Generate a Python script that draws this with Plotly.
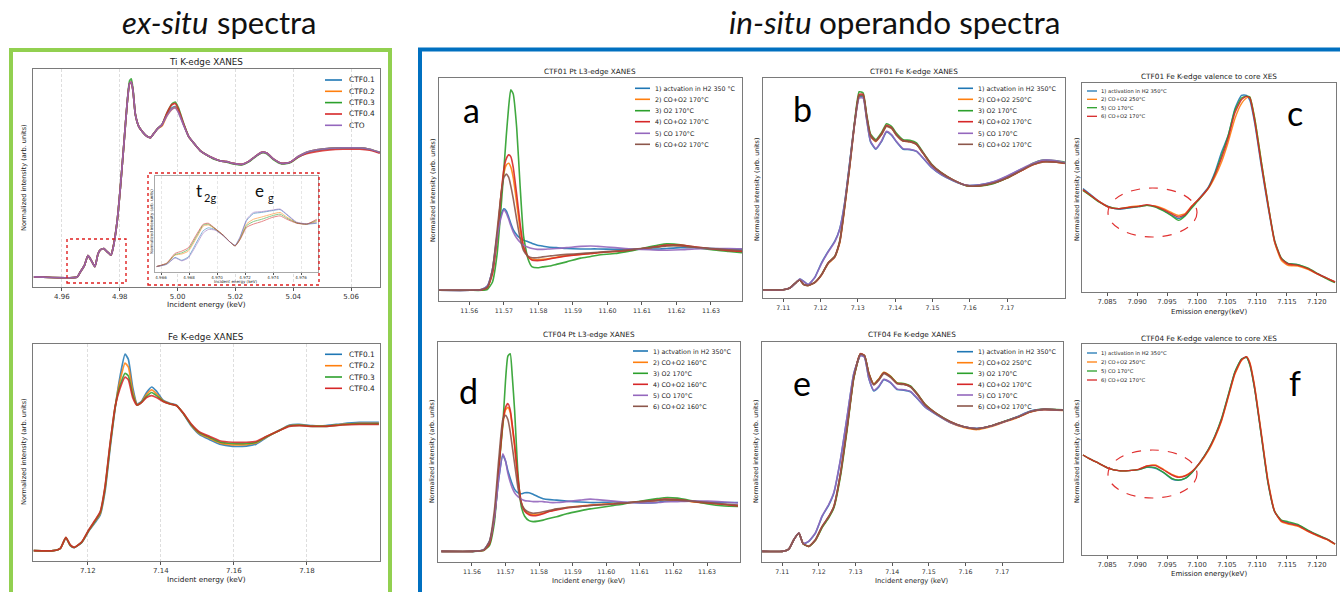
import plotly.graph_objects as go

W, H = 1340, 592
COLORS = ["#1f77b4", "#ff7f0e", "#2ca02c", "#d62728", "#9467bd", "#8c564b"]
MPL = "DejaVu Sans"

# ---------------- data: ex-situ Ti K-edge ----------------
ti_energy = [4.9503, 4.9653, 4.9664, 4.9678, 4.9690, 4.9701, 4.9714, 4.9725, 4.9733, 4.9745,
             4.9756, 4.9770, 4.9779, 4.9791, 4.9802, 4.9814, 4.9825, 4.9834, 4.9840, 4.9846,
             4.9854, 4.9866, 4.9877, 4.9894, 4.9906, 4.9917, 4.9931, 4.9946, 4.9963, 4.9980,
             4.9992, 5.0003, 5.0021, 5.0038, 5.0055, 5.0078, 5.0101, 5.0124, 5.0147, 5.0170,
             5.0193, 5.0222, 5.0245, 5.0268, 5.0291, 5.0308, 5.0331, 5.0360, 5.0389, 5.0417,
             5.0446, 5.0480, 5.0526, 5.0572, 5.0630, 5.0664, 5.0699]
ti_ctf01 = [0.0, 0.0, 0.04, 0.09, 0.165, 0.13, 0.08, 0.18, 0.21, 0.22, 0.196, 0.17, 0.25, 0.43, 0.69, 1.02, 1.33, 1.50, 1.50, 1.44,
            1.26, 1.165, 1.13, 1.09, 1.08, 1.11, 1.15, 1.18, 1.26, 1.31, 1.32, 1.285, 1.18, 1.09, 1.04, 0.98, 0.945, 0.92, 0.90, 0.894,
            0.88, 0.873, 0.894, 0.933, 0.966, 0.96, 0.915, 0.88, 0.889, 0.933, 0.966, 0.985, 0.997, 1.0, 1.0, 0.99, 0.966]
ti_ctf02 = [0.0, 0.0, 0.04, 0.09, 0.165, 0.13, 0.08, 0.18, 0.21, 0.22, 0.196, 0.17, 0.25, 0.43, 0.69, 1.02, 1.33, 1.50, 1.51, 1.44,
            1.26, 1.165, 1.13, 1.09, 1.08, 1.11, 1.15, 1.17, 1.25, 1.30, 1.315, 1.28, 1.18, 1.09, 1.04, 0.98, 0.945, 0.92, 0.90, 0.894,
            0.88, 0.873, 0.894, 0.933, 0.966, 0.96, 0.915, 0.88, 0.889, 0.933, 0.966, 0.985, 0.997, 1.0, 1.0, 0.99, 0.966]
ti_ctf03 = [0.0, 0.0, 0.04, 0.09, 0.165, 0.13, 0.08, 0.18, 0.21, 0.22, 0.196, 0.17, 0.25, 0.43, 0.69, 1.02, 1.33, 1.52, 1.535, 1.45,
            1.26, 1.165, 1.13, 1.09, 1.08, 1.11, 1.15, 1.18, 1.27, 1.34, 1.355, 1.31, 1.19, 1.09, 1.04, 0.98, 0.945, 0.915, 0.90, 0.89,
            0.876, 0.868, 0.89, 0.93, 0.962, 0.956, 0.91, 0.876, 0.885, 0.928, 0.962, 0.982, 0.995, 0.998, 0.998, 0.988, 0.964]
ti_ctf04 = [0.0, 0.0, 0.04, 0.09, 0.165, 0.13, 0.08, 0.18, 0.21, 0.22, 0.196, 0.17, 0.25, 0.43, 0.69, 1.02, 1.33, 1.50, 1.51, 1.44,
            1.26, 1.165, 1.13, 1.09, 1.08, 1.11, 1.15, 1.18, 1.27, 1.335, 1.345, 1.30, 1.185, 1.09, 1.04, 0.98, 0.945, 0.92, 0.90, 0.894,
            0.88, 0.873, 0.894, 0.933, 0.966, 0.96, 0.915, 0.88, 0.889, 0.93, 0.955, 0.972, 0.985, 0.99, 0.99, 0.982, 0.96]
ti_cto = [0.0, 0.0, 0.04, 0.09, 0.165, 0.13, 0.08, 0.18, 0.21, 0.22, 0.196, 0.17, 0.245, 0.43, 0.69, 1.02, 1.33, 1.50, 1.51, 1.44,
          1.26, 1.165, 1.13, 1.09, 1.08, 1.11, 1.15, 1.18, 1.25, 1.30, 1.31, 1.275, 1.175, 1.09, 1.04, 0.98, 0.945, 0.92, 0.90, 0.894,
          0.88, 0.873, 0.894, 0.933, 0.966, 0.96, 0.915, 0.88, 0.889, 0.933, 0.966, 0.985, 0.997, 1.0, 1.0, 0.99, 0.966]
ti_labels = ["CTF0.1", "CTF0.2", "CTF0.3", "CTF0.4", "CTO"]

# inset (pre-edge region of Ti K-edge)
inset_energy = [4.96569, 4.9664, 4.9670, 4.96748, 4.96795, 4.96855, 4.96902, 4.96938, 4.96986, 4.97045, 4.97093,
                4.97129, 4.97164, 4.97212, 4.9726, 4.97319, 4.97391, 4.9745, 4.97498, 4.97569, 4.9764, 4.97712]
inset_ctf01 = [-0.01, 0.03, 0.15, 0.10, 0.16, 0.42, 0.62, 0.67, 0.64, 0.53, 0.42, 0.36, 0.50, 0.80, 0.92, 0.94, 0.97, 0.99, 0.90, 0.76, 0.735, 0.75]
inset_ctf02 = [-0.01, 0.04, 0.19, 0.21, 0.26, 0.50, 0.70, 0.72, 0.65, 0.535, 0.42, 0.355, 0.48, 0.74, 0.82, 0.86, 0.91, 0.94, 0.86, 0.76, 0.735, 0.78]
inset_ctf03 = [-0.01, 0.045, 0.20, 0.23, 0.29, 0.53, 0.72, 0.735, 0.655, 0.54, 0.42, 0.352, 0.47, 0.71, 0.78, 0.82, 0.88, 0.91, 0.84, 0.755, 0.735, 0.80]
inset_ctf04 = [-0.01, 0.05, 0.22, 0.26, 0.32, 0.56, 0.735, 0.75, 0.66, 0.54, 0.42, 0.35, 0.46, 0.68, 0.735, 0.78, 0.85, 0.88, 0.82, 0.75, 0.735, 0.82]
inset_cto = [-0.01, 0.03, 0.14, 0.09, 0.14, 0.38, 0.58, 0.64, 0.63, 0.53, 0.42, 0.36, 0.51, 0.82, 0.94, 0.955, 0.98, 1.0, 0.91, 0.77, 0.74, 0.76]

# ---------------- data: ex-situ Fe K-edge ----------------
fe_energy = [7.1052, 7.1106, 7.1125, 7.1140, 7.1152, 7.1163, 7.1184, 7.1202, 7.1220, 7.1234, 7.1247, 7.1261, 7.1275, 7.1288,
             7.1302, 7.1311, 7.1323, 7.1335, 7.1347, 7.1361, 7.1375, 7.1388, 7.1406, 7.1425, 7.1443, 7.1461, 7.1484, 7.1506,
             7.1534, 7.1561, 7.1597, 7.1634, 7.1661, 7.1688, 7.1725, 7.1752, 7.1779, 7.1815, 7.1852, 7.1897, 7.1943, 7.1997]
fe_ctf01 = [0, 0, 0.018, 0.10, 0.04, 0.024, 0.065, 0.15, 0.22, 0.28, 0.46, 0.80, 1.12, 1.36, 1.54, 1.50, 1.28, 1.15, 1.17, 1.24, 1.283,
            1.25, 1.18, 1.155, 1.14, 1.075, 0.975, 0.91, 0.87, 0.835, 0.818, 0.82, 0.835, 0.885, 0.945, 0.985, 0.99, 0.98, 0.98, 0.995, 1.005, 1.005]
fe_ctf02 = [0, 0, 0.018, 0.102, 0.042, 0.025, 0.068, 0.155, 0.23, 0.29, 0.48, 0.82, 1.125, 1.33, 1.47, 1.44, 1.25, 1.145, 1.165, 1.225, 1.26,
            1.23, 1.175, 1.152, 1.138, 1.078, 0.982, 0.918, 0.88, 0.845, 0.83, 0.832, 0.845, 0.89, 0.943, 0.98, 0.985, 0.977, 0.977, 0.99, 0.998, 0.998]
fe_ctf03 = [0, 0, 0.018, 0.103, 0.043, 0.025, 0.069, 0.158, 0.235, 0.30, 0.49, 0.83, 1.128, 1.29, 1.39, 1.37, 1.22, 1.14, 1.162, 1.21, 1.24,
            1.215, 1.172, 1.15, 1.137, 1.079, 0.986, 0.924, 0.888, 0.852, 0.84, 0.84, 0.85, 0.892, 0.942, 0.977, 0.982, 0.975, 0.975, 0.987, 0.994, 0.994]
fe_ctf04 = [0, 0, 0.018, 0.105, 0.045, 0.026, 0.07, 0.16, 0.24, 0.306, 0.50, 0.84, 1.13, 1.27, 1.36, 1.34, 1.20, 1.14, 1.16, 1.20, 1.215,
            1.20, 1.17, 1.15, 1.136, 1.08, 0.99, 0.93, 0.895, 0.862, 0.85, 0.85, 0.858, 0.895, 0.942, 0.974, 0.98, 0.974, 0.974, 0.985, 0.99, 0.99]
fe_labels = ["CTF0.1", "CTF0.2", "CTF0.3", "CTF0.4"]

# ---------------- data: in-situ Pt L3-edge (panels a, d) ----------------
pt_energy = [11.5509, 11.5602, 11.5635, 11.5652, 11.5667, 11.5680, 11.5692, 11.5700, 11.5707, 11.5714, 11.5720, 11.5727,
             11.5737, 11.5747, 11.5757, 11.5770, 11.5782, 11.5797, 11.5812, 11.5832, 11.5852, 11.5882, 11.5922, 11.5952,
             11.5972, 11.6022, 11.6052, 11.6072, 11.6122, 11.6152, 11.6172, 11.6212, 11.6252, 11.6302, 11.6352, 11.6392]
a_s1 = [0, 0, 0.02, 0.1, 0.5, 1.3, 1.8, 1.95, 1.9, 1.75, 1.6, 1.45, 1.33, 1.25, 1.2, 1.16, 1.12, 1.08, 1.06, 1.03, 1.02, 1.0,
        0.99, 0.99, 0.99, 0.98, 0.98, 0.98, 0.99, 0.99, 1.0, 1.02, 1.02, 1.0, 0.99, 0.98]
a_s2 = [0, 0, 0.01, 0.06, 0.42, 1.25, 2.3, 2.8, 3.0, 3.04, 2.95, 2.7, 2.1, 1.45, 1.0, 0.8, 0.74, 0.73, 0.74, 0.76, 0.79, 0.83,
        0.86, 0.88, 0.9, 0.93, 0.95, 0.97, 1.02, 1.05, 1.07, 1.07, 1.03, 0.99, 0.96, 0.94]
a_s3 = [0, 0, 0, 0.02, 0.2, 0.84, 2.0, 2.9, 3.7, 4.4, 4.8, 4.7, 3.9, 2.5, 1.3, 0.75, 0.56, 0.54, 0.56, 0.58, 0.62, 0.68,
        0.77, 0.81, 0.84, 0.88, 0.92, 0.95, 1.04, 1.09, 1.11, 1.09, 1.03, 0.97, 0.93, 0.9]
a_s4 = [0, 0, 0.01, 0.06, 0.4, 1.2, 2.3, 2.9, 3.15, 3.24, 3.2, 2.95, 2.3, 1.6, 1.05, 0.8, 0.72, 0.71, 0.72, 0.75, 0.78, 0.82,
        0.86, 0.88, 0.9, 0.93, 0.95, 0.97, 1.02, 1.06, 1.08, 1.08, 1.04, 0.99, 0.95, 0.93]
a_s5 = [0, 0, 0.02, 0.1, 0.5, 1.25, 1.75, 1.92, 1.85, 1.7, 1.55, 1.4, 1.25, 1.15, 1.08, 1.03, 1.0, 0.98, 0.98, 0.99, 1.0, 1.02,
        1.05, 1.06, 1.05, 1.02, 1.0, 0.99, 0.97, 0.96, 0.96, 0.97, 0.99, 1.0, 1.0, 0.99]
a_s6 = [0, 0, 0.02, 0.08, 0.5, 1.4, 2.3, 2.7, 2.78, 2.7, 2.5, 2.2, 1.7, 1.25, 0.95, 0.82, 0.78, 0.78, 0.8, 0.82, 0.84, 0.86,
        0.88, 0.9, 0.91, 0.94, 0.96, 0.98, 1.02, 1.04, 1.06, 1.06, 1.03, 1.0, 0.97, 0.95]
a_labels = ["1) actvation in H2 350 °C", "2) CO+O2 170°C", "3) O2 170°C", "4) CO+O2 170°C", "5) CO 170°C", "6) CO+O2 170°C"]

d_s1 = [0, 0, 0.03, 0.2, 0.7, 1.5, 1.97, 1.85, 1.65, 1.5, 1.38, 1.27, 1.2, 1.18, 1.2, 1.2, 1.17, 1.12, 1.08, 1.06, 1.05, 1.03,
        1.01, 1.0, 1.0, 1.01, 1.0, 1.0, 0.99, 1.0, 1.03, 1.04, 1.03, 1.01, 1.0, 1.0]
d_s2 = [0, 0, 0.02, 0.15, 0.72, 1.72, 2.6, 2.9, 2.95, 2.85, 2.55, 2.15, 1.45, 1.0, 0.84, 0.77, 0.75, 0.76, 0.78, 0.83, 0.86, 0.9,
        0.93, 0.95, 0.96, 0.98, 0.99, 1.0, 1.03, 1.05, 1.06, 1.05, 1.02, 0.99, 0.96, 0.94]
d_s3 = [0, 0, 0.02, 0.12, 0.6, 1.7, 2.6, 3.5, 4.0, 4.05, 3.6, 2.9, 1.6, 0.92, 0.72, 0.63, 0.61, 0.62, 0.64, 0.68, 0.71, 0.77,
        0.83, 0.87, 0.89, 0.94, 0.97, 1.0, 1.05, 1.08, 1.1, 1.09, 1.04, 0.97, 0.93, 0.92]
d_s4 = [0, 0, 0.02, 0.15, 0.7, 1.7, 2.65, 2.95, 3.03, 2.9, 2.6, 2.2, 1.5, 1.0, 0.82, 0.75, 0.73, 0.74, 0.77, 0.82, 0.85, 0.89,
        0.92, 0.94, 0.95, 0.97, 0.99, 1.0, 1.03, 1.05, 1.07, 1.06, 1.03, 0.99, 0.96, 0.93]
d_s5 = [0, 0, 0.03, 0.2, 0.7, 1.5, 2.0, 1.85, 1.6, 1.42, 1.3, 1.2, 1.12, 1.07, 1.04, 1.03, 1.02, 1.02, 1.02, 1.0, 1.0, 1.02,
        1.05, 1.07, 1.06, 1.03, 1.01, 1.0, 0.99, 1.0, 1.01, 1.02, 1.03, 1.03, 1.01, 0.99]
d_s6 = [0, 0, 0.03, 0.2, 0.85, 1.9, 2.7, 2.79, 2.7, 2.45, 2.15, 1.8, 1.3, 0.98, 0.86, 0.8, 0.78, 0.79, 0.81, 0.84, 0.87, 0.9,
        0.92, 0.94, 0.95, 0.97, 0.99, 1.0, 1.03, 1.04, 1.06, 1.05, 1.03, 1.0, 0.97, 0.95]
d_labels = ["1) actvation in H2 350°C", "2) CO+O2 160°C", "3) O2 170°C", "4) CO+O2 160°C", "5) CO 170°C", "6) CO+O2 160°C"]

# ---------------- data: in-situ Fe K-edge (panels b, e) ----------------
b_energy = [7.10446, 7.1100, 7.11179, 7.11357, 7.11446, 7.11554, 7.1167, 7.11848, 7.12027, 7.12205, 7.12384, 7.12518,
            7.12652, 7.12786, 7.1292, 7.13036, 7.13143, 7.13232, 7.13339, 7.13482, 7.13634, 7.13768, 7.13902, 7.14036,
            7.14214, 7.14393, 7.14571, 7.1475, 7.14973, 7.15241, 7.15554, 7.15911, 7.16268, 7.16625, 7.16982, 7.17339,
            7.17696, 7.17964, 7.18321, 7.18545]
b_s1 = [0, 0, 0.013, 0.06, 0.083, 0.065, 0.04, 0.097, 0.21, 0.30, 0.38, 0.48, 0.69, 1.005, 1.32, 1.51, 1.51, 1.345, 1.16, 1.10,
        1.16, 1.235, 1.21, 1.157, 1.10, 1.097, 1.083, 1.03, 0.958, 0.9, 0.854, 0.817, 0.822, 0.843, 0.885, 0.937, 0.984, 1.01, 1.005, 0.99]
b_s2 = [0, 0, 0.013, 0.06, 0.078, 0.042, 0.034, 0.056, 0.115, 0.205, 0.255, 0.37, 0.65, 0.97, 1.31, 1.52, 1.52, 1.36, 1.2, 1.16,
        1.215, 1.28, 1.265, 1.21, 1.165, 1.158, 1.138, 1.068, 0.978, 0.912, 0.858, 0.815, 0.813, 0.833, 0.872, 0.925, 0.978, 1.0, 0.998, 0.988]
b_s3 = [0, 0, 0.013, 0.06, 0.076, 0.04, 0.034, 0.058, 0.118, 0.21, 0.262, 0.385, 0.67, 0.99, 1.33, 1.55, 1.54, 1.38, 1.22, 1.175,
        1.23, 1.3, 1.28, 1.225, 1.175, 1.17, 1.15, 1.075, 0.985, 0.916, 0.86, 0.815, 0.812, 0.83, 0.872, 0.93, 0.99, 1.015, 1.01, 1.0]
b_s4 = [0, 0, 0.013, 0.06, 0.076, 0.04, 0.034, 0.057, 0.117, 0.21, 0.26, 0.38, 0.666, 0.98, 1.32, 1.53, 1.53, 1.37, 1.21, 1.167,
        1.22, 1.287, 1.27, 1.214, 1.167, 1.16, 1.14, 1.07, 0.98, 0.914, 0.86, 0.817, 0.815, 0.835, 0.875, 0.927, 0.98, 1.005, 1.0, 0.99]
b_s5 = [0, 0, 0.013, 0.06, 0.083, 0.063, 0.04, 0.095, 0.205, 0.295, 0.375, 0.475, 0.685, 1.0, 1.31, 1.50, 1.50, 1.34, 1.165, 1.105,
        1.165, 1.24, 1.215, 1.16, 1.105, 1.1, 1.085, 1.032, 0.96, 0.902, 0.856, 0.818, 0.822, 0.845, 0.888, 0.94, 0.99, 1.015, 1.01, 0.995]
b_s6 = [0, 0, 0.013, 0.06, 0.076, 0.041, 0.034, 0.056, 0.116, 0.208, 0.258, 0.375, 0.66, 0.975, 1.315, 1.52, 1.52, 1.365, 1.205, 1.163,
        1.215, 1.28, 1.265, 1.21, 1.165, 1.158, 1.138, 1.068, 0.978, 0.912, 0.858, 0.816, 0.815, 0.835, 0.875, 0.927, 0.98, 1.0, 0.998, 0.99]
b_labels = ["1) actvation in H2 350°C", "2) CO+O2 250°C", "3) O2 170°C", "4) CO+O2 170°C", "5) CO 170°C", "6) CO+O2 170°C"]

e_energy = [7.10455, 7.1100, 7.11182, 7.11318, 7.11455, 7.11573, 7.11727, 7.11909, 7.12091, 7.12273, 7.12409, 7.12591,
            7.12773, 7.12955, 7.13136, 7.13245, 7.13364, 7.1350, 7.13636, 7.13773, 7.13955, 7.14136, 7.14318, 7.1450,
            7.14682, 7.14909, 7.15227, 7.15591, 7.15955, 7.16318, 7.16682, 7.17045, 7.17409, 7.17773, 7.18136, 7.18682]
e_s1 = [0, 0, 0.016, 0.082, 0.129, 0.054, 0.07, 0.129, 0.246, 0.328, 0.41, 0.644, 0.948, 1.253, 1.38, 1.37, 1.218, 1.13, 1.159, 1.21,
        1.188, 1.14, 1.136, 1.124, 1.077, 1.014, 0.96, 0.906, 0.878, 0.867, 0.883, 0.913, 0.948, 0.988, 1.0, 0.995]
e_s2 = [0, 0, 0.016, 0.082, 0.129, 0.054, 0.035, 0.08, 0.172, 0.242, 0.31, 0.54, 0.87, 1.225, 1.39, 1.378, 1.255, 1.18, 1.215, 1.262,
        1.235, 1.186, 1.18, 1.162, 1.11, 1.032, 0.965, 0.908, 0.872, 0.858, 0.878, 0.91, 0.942, 0.982, 0.998, 0.992]
e_s3 = [0, 0, 0.016, 0.082, 0.129, 0.054, 0.034, 0.078, 0.168, 0.238, 0.305, 0.53, 0.86, 1.22, 1.39, 1.38, 1.255, 1.178, 1.212, 1.26,
        1.232, 1.187, 1.183, 1.165, 1.112, 1.034, 0.968, 0.914, 0.878, 0.864, 0.883, 0.915, 0.946, 0.986, 1.002, 0.997]
e_s4 = [0, 0, 0.016, 0.082, 0.129, 0.054, 0.035, 0.082, 0.176, 0.246, 0.316, 0.55, 0.878, 1.23, 1.393, 1.38, 1.253, 1.176, 1.21, 1.258,
        1.23, 1.183, 1.178, 1.16, 1.108, 1.03, 0.967, 0.913, 0.878, 0.864, 0.883, 0.913, 0.944, 0.984, 1.0, 0.995]
e_s5 = [0, 0, 0.016, 0.082, 0.13, 0.056, 0.072, 0.132, 0.25, 0.332, 0.415, 0.65, 0.952, 1.255, 1.38, 1.368, 1.22, 1.135, 1.163, 1.212,
        1.19, 1.143, 1.138, 1.126, 1.08, 1.016, 0.962, 0.908, 0.878, 0.866, 0.882, 0.912, 0.947, 0.987, 1.0, 0.995]
e_s6 = [0, 0, 0.016, 0.082, 0.129, 0.054, 0.035, 0.082, 0.176, 0.246, 0.316, 0.55, 0.878, 1.23, 1.39, 1.378, 1.25, 1.172, 1.205, 1.252,
        1.226, 1.18, 1.175, 1.158, 1.106, 1.028, 0.966, 0.912, 0.878, 0.864, 0.883, 0.913, 0.944, 0.984, 1.0, 0.995]
e_labels = b_labels

# ---------------- data: valence-to-core XES (panels c, f) ----------------
xes_energy = [7.08096, 7.08195, 7.08362, 7.08528, 7.08694, 7.0886, 7.09026, 7.09164, 7.09303, 7.09441, 7.0958, 7.0969,
              7.09801, 7.09912, 7.1005, 7.10189, 7.103, 7.1041, 7.10521, 7.10632, 7.10742, 7.10825, 7.10881, 7.10964,
              7.11075, 7.11185, 7.11296, 7.11407, 7.11517, 7.11683, 7.11849, 7.12016, 7.12182, 7.12304]
c_s1 = [3.1, 2.96, 2.72, 2.56, 2.48, 2.52, 2.56, 2.6, 2.56, 2.45, 2.3, 2.2, 2.3, 2.55, 2.84, 3.15, 3.6, 4.2, 4.7, 5.5, 5.9, 5.9,
        5.75, 5.05, 3.75, 2.55, 1.5, 1.0, 0.86, 0.82, 0.7, 0.54, 0.4, 0.3]
c_s2 = [3.05, 2.93, 2.72, 2.55, 2.5, 2.55, 2.58, 2.6, 2.58, 2.5, 2.38, 2.3, 2.35, 2.58, 2.82, 3.1, 3.45, 3.9, 4.5, 5.2, 5.65, 5.82,
        5.85, 5.2, 3.9, 2.65, 1.48, 0.95, 0.8, 0.78, 0.68, 0.53, 0.4, 0.3]
c_s5 = [3.05, 2.92, 2.7, 2.55, 2.5, 2.53, 2.56, 2.6, 2.55, 2.43, 2.28, 2.15, 2.28, 2.52, 2.8, 3.12, 3.55, 4.1, 4.7, 5.45, 5.82, 5.87,
        5.85, 5.2, 3.9, 2.65, 1.55, 1.02, 0.86, 0.82, 0.72, 0.55, 0.38, 0.28]
c_s6 = [3.07, 2.94, 2.72, 2.54, 2.5, 2.54, 2.57, 2.62, 2.57, 2.47, 2.34, 2.25, 2.32, 2.57, 2.82, 3.12, 3.52, 4.02, 4.62, 5.37, 5.77, 5.87,
        5.82, 5.12, 3.82, 2.62, 1.52, 1.0, 0.84, 0.8, 0.7, 0.54, 0.4, 0.3]
f_s1 = [3.0, 2.9, 2.75, 2.6, 2.53, 2.53, 2.56, 2.63, 2.6, 2.47, 2.28, 2.24, 2.3, 2.47, 2.78, 3.16, 3.57, 4.08, 4.78, 5.48, 5.87, 5.93,
        5.72, 4.97, 3.57, 2.17, 1.3, 1.03, 0.97, 0.9, 0.74, 0.59, 0.46, 0.33]
f_s2 = [3.0, 2.9, 2.75, 2.6, 2.53, 2.53, 2.57, 2.67, 2.7, 2.57, 2.42, 2.35, 2.38, 2.5, 2.76, 3.12, 3.52, 4.02, 4.72, 5.42, 5.83, 5.95,
        5.78, 5.05, 3.65, 2.25, 1.32, 1.0, 0.93, 0.86, 0.71, 0.57, 0.45, 0.32]
f_s5 = [3.0, 2.9, 2.75, 2.6, 2.53, 2.53, 2.56, 2.64, 2.62, 2.48, 2.3, 2.25, 2.3, 2.47, 2.78, 3.17, 3.58, 4.1, 4.8, 5.5, 5.88, 5.93,
        5.7, 4.95, 3.55, 2.15, 1.3, 1.05, 1.0, 0.92, 0.75, 0.6, 0.47, 0.33]
f_s6 = [3.0, 2.9, 2.75, 2.6, 2.53, 2.53, 2.57, 2.67, 2.68, 2.55, 2.4, 2.33, 2.37, 2.5, 2.78, 3.15, 3.55, 4.05, 4.75, 5.45, 5.85, 5.95,
        5.75, 5.0, 3.6, 2.2, 1.3, 1.02, 0.95, 0.88, 0.72, 0.58, 0.46, 0.33]
xes_labels = ["1) activation in H2 350°C", "2) CO+O2 250°C", "5) CO 170°C", "6) CO+O2 170°C"]

# tick values
ti_ticks = [4.96, 4.98, 5.00, 5.02, 5.04, 5.06]
fe_ticks = [7.12, 7.14, 7.16, 7.18]
pt_ticks = [11.56, 11.57, 11.58, 11.59, 11.60, 11.61, 11.62, 11.63]
fek_ticks = [7.11, 7.12, 7.13, 7.14, 7.15, 7.16, 7.17]
xes_ticks = [7.085, 7.090, 7.095, 7.100, 7.105, 7.110, 7.115, 7.120]
inset_ticks = [4.966, 4.968, 4.970, 4.972, 4.974, 4.976]


# ---------------- helpers ----------------
def px(x):
    return x / W


def py(y):
    return 1 - y / H


fig = go.Figure()
shapes = []
annotations = []


def add_lines(sfx, x, series, width=1.6, opacity=0.9):
    for name, ys, color in series:
        fig.add_trace(go.Scatter(
            x=x, y=ys, mode="lines", name=name, showlegend=False, hoverinfo="skip",
            line=dict(color=color, width=width, shape="spline", smoothing=0.5),
            opacity=opacity, xaxis="x" + sfx, yaxis="y" + sfx))


def xax(dom, rng, ticks, fmt, anchor, grid=False, fsize=7.0):
    return dict(domain=[px(dom[0]), px(dom[1])], range=rng, anchor=anchor,
                tickvals=ticks, tickformat=fmt, ticks="outside", ticklen=3, tickcolor="#555",
                tickfont=dict(family=MPL, size=fsize, color="#333"),
                showline=True, linecolor="#7a7a7a", linewidth=1, mirror=True,
                showgrid=grid, gridcolor="#dedede", griddash="3px,2px", gridwidth=0.8, zeroline=False)


def yax(dom, rng, anchor):
    return dict(domain=[py(dom[1]), py(dom[0])], range=rng, anchor=anchor,
                showticklabels=False, ticks="", showline=True, linecolor="#7a7a7a", linewidth=1,
                mirror=True, showgrid=False, zeroline=False)


def text(x, y, s, size, family=MPL, color="#222", xanchor="center", yanchor="middle", angle=0, style="normal"):
    annotations.append(dict(x=px(x), y=py(y), xref="paper", yref="paper", text=s, showarrow=False,
                            xanchor=xanchor, yanchor=yanchor, textangle=angle, borderpad=0,
                            font=dict(family=family, size=size, color=color, style=style)))


def legend(x0, x1, xt, ys, labels, colors, size, lw=1.6):
    for yy, lab, col in zip(ys, labels, colors):
        shapes.append(dict(type="line", xref="paper", yref="paper", x0=px(x0), x1=px(x1),
                           y0=py(yy), y1=py(yy), line=dict(color=col, width=lw)))
        text(xt, yy, lab, size, xanchor="left", color="#222")


C6 = COLORS
C4 = COLORS[:4]
C5 = COLORS[:5]

# ---------------- traces ----------------
add_lines("", ti_energy, list(zip(ti_labels, [ti_ctf01, ti_ctf02, ti_ctf03, ti_ctf04, ti_cto], C5)), width=1.7, opacity=0.85)
add_lines("2", fe_energy, list(zip(fe_labels, [fe_ctf01, fe_ctf02, fe_ctf03, fe_ctf04], C4)), width=1.7, opacity=0.85)
add_lines("3", pt_energy, list(zip(a_labels, [a_s1, a_s2, a_s3, a_s4, a_s5, a_s6], C6)))
add_lines("4", b_energy, list(zip(b_labels, [b_s1, b_s2, b_s3, b_s4, b_s5, b_s6], C6)))
add_lines("5", xes_energy, list(zip(xes_labels, [c_s1, c_s2, c_s5, c_s6], C4)), width=1.4)
add_lines("6", pt_energy, list(zip(d_labels, [d_s1, d_s2, d_s3, d_s4, d_s5, d_s6], C6)))
add_lines("7", e_energy, list(zip(e_labels, [e_s1, e_s2, e_s3, e_s4, e_s5, e_s6], C6)))
add_lines("8", xes_energy, list(zip(xes_labels, [f_s1, f_s2, f_s5, f_s6], C4)), width=1.4)
add_lines("9", inset_energy, list(zip(ti_labels, [inset_ctf01, inset_ctf02, inset_ctf03, inset_ctf04, inset_cto], C5)),
          width=1.0, opacity=0.55)

# ---------------- axes ----------------
lay = {}
lay["xaxis"] = xax((33, 380), [4.95, 5.07], ti_ticks, ".2f", "y", grid=True)
lay["yaxis"] = yax((69, 287), [-0.078, 1.612], "x")
lay["xaxis2"] = xax((33, 380), [7.105, 7.2], fe_ticks, ".2f", "y2", grid=True)
lay["yaxis2"] = yax((344, 561), [-0.081, 1.62], "x2")
lay["xaxis3"] = xax((439, 742), [11.5512, 11.639], pt_ticks, ".2f", "y3", fsize=6.3)
lay["yaxis3"] = yax((78, 301), [-0.256, 5.08], "x3")
lay["xaxis4"] = xax((763, 1065), [7.1046, 7.1855], fek_ticks, ".2f", "y4", fsize=6.3)
lay["yaxis4"] = yax((78, 298), [-0.065, 1.658], "x4")
lay["xaxis5"] = xax((1082, 1336), [7.0808, 7.1232], xes_ticks, ".3f", "y5", fsize=6.8)
lay["yaxis5"] = yax((83, 292), [0.0, 6.27], "x5")
lay["xaxis6"] = xax((438, 740), [11.5499, 11.6398], pt_ticks, ".2f", "y6", fsize=6.3)
lay["yaxis6"] = yax((342, 562), [-0.218, 4.29], "x6")
lay["xaxis7"] = xax((762, 1063), [7.1045, 7.1866], fek_ticks, ".2f", "y7", fsize=6.3)
lay["yaxis7"] = yax((342, 562), [-0.075, 1.475], "x7")
lay["xaxis8"] = xax((1082, 1336), [7.0808, 7.1232], xes_ticks, ".3f", "y8", fsize=6.8)
lay["yaxis8"] = yax((344, 555), [0.0, 6.33], "x8")
ix = xax((155, 318), [4.96557, 4.97721], inset_ticks, ".3f", "y9", grid=True, fsize=4)
ix.update(ticklen=1.5, linecolor="#aaa", gridcolor="#e6e6e6")
lay["xaxis9"] = ix
iy = yax((176, 272), [-0.106, 1.58], "x9")
iy.update(linecolor="#aaa")
lay["yaxis9"] = iy

# ---------------- texts ----------------
text(209, 22, "ex-situ", 31, family="Lato", color="#111", xanchor="right", style="italic")
text(216, 22, "spectra", 31, family="Lato", color="#111", xanchor="left")
text(813, 22, "in-situ", 31.5, family="Lato", color="#111", xanchor="right", style="italic")
text(818, 22, "operando spectra", 31.5, family="Lato", color="#111", xanchor="left")

text(206, 62, "Ti K-edge XANES", 8.8)
text(206, 337, "Fe K-edge XANES", 8.8)
text(590, 71, "CTF01 Pt L3-edge XANES", 7.3)
text(914, 71, "CTF01 Fe K-edge XANES", 7.3)
text(1209, 76, "CTF01 Fe K-edge valence to core XES", 7.3)
text(589, 334, "CTF04 Pt L3-edge XANES", 7.3)
text(912, 334, "CTF04 Fe K-edge XANES", 7.3)
text(1209, 338, "CTF04 Fe K-edge valence to core XES", 7.3)

text(206, 304, "Incident energy (keV)", 7.3)
text(206, 579, "Incident energy (keV)", 7.3)
text(1209, 312, "Emission energy(keV)", 7.0)
text(589, 581, "Incident energy (keV)", 6.8)
text(912, 581, "Incident energy (keV)", 6.8)
text(1209, 574, "Emission energy(keV)", 7.0)
text(236, 281, "Incident energy (keV)", 4)

ylab = "Normalized intensity (arb. units)"
text(24, 178, ylab, 6.6, angle=-90)
text(24, 452, ylab, 6.6, angle=-90)
text(433, 190, ylab, 6.4, angle=-90)
text(757, 190, ylab, 6.4, angle=-90)
text(1077, 190, ylab, 6.4, angle=-90)
text(432, 452, ylab, 6.4, angle=-90)
text(756, 452, ylab, 6.4, angle=-90)
text(1077, 452, ylab, 6.4, angle=-90)
text(151, 222, ylab, 4, angle=-90)

for lx, ly, lt in [(472, 110, "a"), (802, 108, "b"), (1295, 112, "c"),
                   (468, 390, "d"), (802, 382, "e"), (1295, 382, "f")]:
    text(lx, ly, lt, 34, family="Lato", color="#000")

# t2g / eg labels (main letter + subscript)
text(203, 191, "t", 17, family="Lato", color="#111", xanchor="right")
text(203, 197, "2g", 11, family="Lato", color="#111", xanchor="left")
text(265, 191, "e", 17, family="Lato", color="#111", xanchor="right")
text(267, 197, "g", 11, family="Lato", color="#111", xanchor="left")

# ---------------- legends ----------------
legend(325, 342, 348, [80, 91.3, 102.6, 114, 125.3], ti_labels, C5, 7.4)
legend(325, 342, 348, [354.3, 365.7, 377, 388.3], fe_labels, C4, 7.4)
legend(635, 650, 654, [88.3, 99.3, 110.7, 121.7, 133.3, 144.3], a_labels, C6, 6.3)
legend(958, 973, 977, [88.3, 99.3, 110.7, 121.7, 133.3, 144.3], b_labels, C6, 6.3)
legend(1087, 1097, 1100, [91, 99.3, 107.7, 116.3], xes_labels, C4, 5.2, lw=1.3)
legend(633, 648, 652, [351, 362.3, 373.3, 384.3, 395.3, 406.3], d_labels, C6, 6.3)
legend(957, 973, 977, [351.7, 362.7, 373.3, 384.3, 395, 406], e_labels, C6, 6.3)
legend(1087, 1097, 1100, [353, 362, 371, 380], xes_labels, C4, 5.2, lw=1.3)

# ---------------- decorative shapes ----------------
def rect(x0, y0, x1, y1, color, width, dash="solid"):
    shapes.append(dict(type="rect", xref="paper", yref="paper", x0=px(x0), x1=px(x1), y0=py(y1), y1=py(y0),
                       line=dict(color=color, width=width, dash=dash), fillcolor="rgba(0,0,0,0)"))


def ellipse(x0, y0, x1, y1):
    shapes.append(dict(type="circle", xref="paper", yref="paper", x0=px(x0), x1=px(x1), y0=py(y1), y1=py(y0),
                       line=dict(color="#e03030", width=1.2, dash="dash")))


rect(11, 50, 390, 640, "#92D050", 4)
rect(420, 49.5, 1380, 640, "#0070C0", 4)
rect(67, 239, 126, 283, "#e02020", 1.4, "dot")
rect(148, 173, 319, 285, "#e02020", 1.4, "dot")
ellipse(1108, 188, 1197, 237)
ellipse(1108, 450, 1197, 498)

lay.update(width=W, height=H, margin=dict(l=0, r=0, t=0, b=0), autosize=False,
           paper_bgcolor="white", plot_bgcolor="white", showlegend=False,
           shapes=shapes, annotations=annotations)
fig.update_layout(**lay)

fig.write_html("out.html", config={"displayModeBar": False},
               post_script="document.body.style.margin='0px';document.body.style.overflow='hidden';")
